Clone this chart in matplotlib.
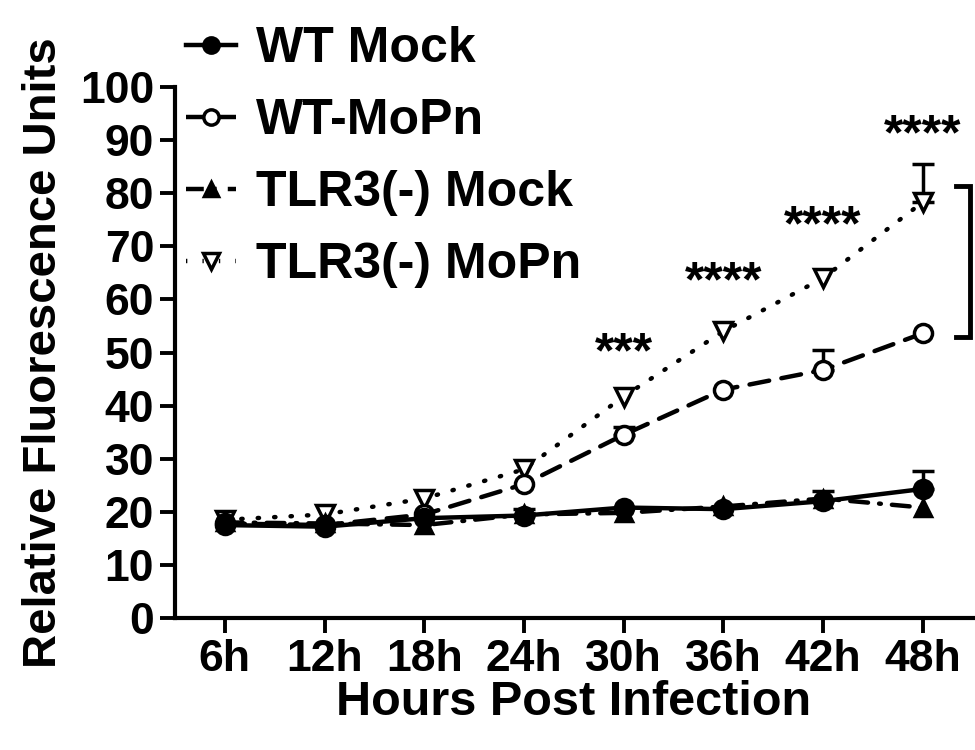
import matplotlib
matplotlib.use("Agg")
import matplotlib.pyplot as plt
import numpy as np
from matplotlib.lines import Line2D

categories = ["6h", "12h", "18h", "24h", "30h", "36h", "42h", "48h"]
wt_mock = [17.5, 17.2, 18.8, 19.3, 20.8, 20.5, 22.0, 24.3]
wt_mock_err = [0.0, 0.0, 0.0, 1.3, 0.0, 0.0, 2.0, 3.4]
wt_mopn = [17.8, 17.5, 19.5, 25.2, 34.5, 43.0, 46.7, 53.6]
wt_mopn_err = [0.0, 0.0, 0.0, 0.0, 1.5, 0.0, 3.8, 0.0]
tlr_mock = [18.0, 17.8, 17.5, 19.5, 19.8, 21.0, 22.5, 20.8]
tlr_mock_err = [0.0, 0.0, 0.0, 0.0, 0.0, 0.0, 0.0, 0.0]
tlr_mopn = [18.5, 19.5, 22.5, 28.0, 41.7, 54.0, 64.0, 78.3]
tlr_mopn_err = [0.0, 0.0, 0.0, 0.0, 0.0, 0.0, 0.0, 7.2]
stars = ["", "", "", "", "***", "****", "****", "****"]
star_y = [0, 0, 0, 0, 49.6, 63.0, 73.5, 90.8]
series_labels = ["WT Mock", "WT-MoPn", "TLR3(-) Mock", "TLR3(-) MoPn"]

plt.rcParams['font.family'] = ['Liberation Sans', 'DejaVu Sans']
plt.rcParams['font.weight'] = 'bold'

fig = plt.figure(figsize=(9.75, 7.5), dpi=100)
ax = fig.add_axes([0.1795, 0.176, 0.818, 0.708])
x = np.arange(len(categories))

styles = [
    dict(marker='o', mfc='black', ls='-', ms=13),
    dict(marker='o', mfc='white', ls=(0, (4.5, 2.8)), ms=13),
    dict(marker='^', mfc='black', ls=(0, (4, 2.5, 0.4, 2.5)), ms=12),
    dict(marker='v', mfc='white', ls=(0, (0.3, 3.4)), ms=13),
]
data = [(wt_mock, wt_mock_err), (wt_mopn, wt_mopn_err), (tlr_mock, tlr_mock_err), (tlr_mopn, tlr_mopn_err)]
order = [3, 2, 1, 0]
for i in order:
    vals, err = data[i]
    st = styles[i]
    yerr = np.array([np.zeros(len(err)), err])
    mask = np.array(err) > 0
    if mask.any():
        ax.errorbar(x[mask], np.array(vals)[mask], yerr=yerr[:, mask], fmt='none',
                    ecolor='black', elinewidth=2.5, capsize=8, capthick=2.5, zorder=2)
    ax.plot(x, vals, color='black', lw=3.2, ls=st['ls'], marker=st['marker'],
            mfc=st['mfc'], mec='black', mew=2.5, ms=st['ms'], zorder=3,
            dash_capstyle='round', solid_capstyle='round')

for xi, s, yv in zip(x, stars, star_y):
    if s:
        ax.text(xi, yv, s, ha='center', va='center', fontsize=36, fontweight='bold')

# bracket
ax.plot([7.33, 7.47, 7.47, 7.33], [81.3, 81.3, 53.0, 53.0], color='black', lw=3.5,
        clip_on=False, solid_joinstyle='miter')

ax.set_xlim(-0.5, 7.5)
ax.set_ylim(0, 100)
ax.set_xticks(x)
ax.set_xticklabels(categories)
ax.set_yticks(np.arange(0, 101, 10))
ax.tick_params(axis='both', labelsize=32, width=2.8, length=11, direction='out', pad=4)
for lab in ax.get_xticklabels() + ax.get_yticklabels():
    lab.set_fontweight('bold')
for s in ['top', 'right']:
    ax.spines[s].set_visible(False)
for s in ['left', 'bottom']:
    ax.spines[s].set_linewidth(3)
ax.set_xlabel("Hours Post Infection", fontsize=35, fontweight='bold', labelpad=0)
ax.set_ylabel("Relative Fluorescence Units", fontsize=34, fontweight='bold', labelpad=10)

handles = []
for i in range(4):
    st = styles[i]
    handles.append(Line2D([0], [0], color='black', lw=3.2, ls=st['ls'], marker=st['marker'],
                          mfc=st['mfc'], mec='black', mew=2.5, ms=st['ms'] - 2))
fig.legend(handles, series_labels, loc='upper left', bbox_to_anchor=(0.145, 1.025),
           frameon=False, handlelength=1.0, handletextpad=0.4,
           labelspacing=0.52, prop={'weight': 'bold', 'size': 36})

fig.savefig("out.png", dpi=100)
